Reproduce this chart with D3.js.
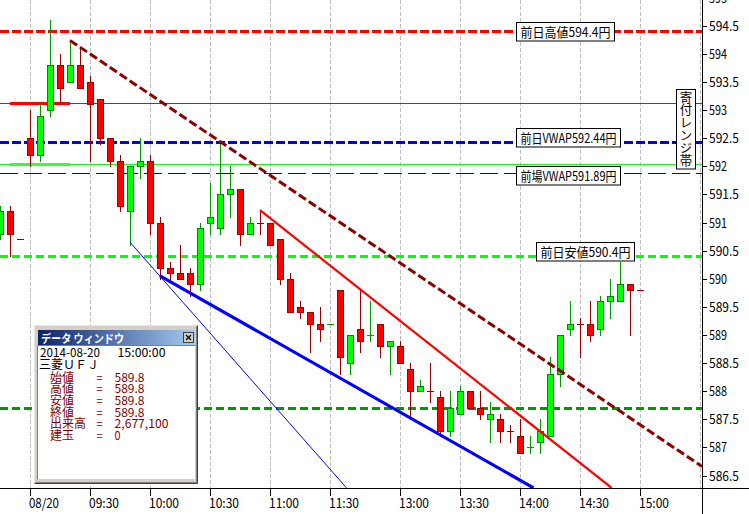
<!DOCTYPE html>
<html><head><meta charset="utf-8">
<script src="https://cdn.jsdelivr.net/npm/d3@7"></script>
<style>html,body{margin:0;padding:0;background:#fff;overflow:hidden}</style>
</head><body><svg id="c" width="749" height="514"></svg>
<script>
// ---------------- DATA ----------------
const barIdx = d3.range(-3, 62); // 5-min bars, 0 = 08/20 09:00
const opens  = [590.8,591.2,590.7, 592.5,592.2,593.0,593.8,593.5,593.8,593.5,593.2,592.5,592.1,591.2,592.0,592.1,591.0,590.2,590.1,590.1,589.9,591.0,590.9,591.5,591.6,590.8,591.0,591.0,590.7,590.0,589.5,589.4,589.2,589.2,589.8,588.5,589.1,589.0,589.2,588.8,588.8,588.4,588.0,588.0,587.9,587.3,587.6,588.0,587.7,587.5,587.5,587.3,587.2,587.0,587.1,587.2,588.3,589.1,589.2,589.2,589.1,589.6,589.6,589.9,589.8];
const highs  = [591.3,591.3,590.7, 593.0,593.1,594.6,594.0,594.2,594.1,593.6,593.2,592.5,592.2,592.0,592.5,592.2,591.1,590.3,590.6,590.2,591.0,591.7,592.4,592.0,591.6,591.1,591.2,591.0,590.7,590.1,589.6,589.4,589.5,589.2,589.8,589.0,589.8,589.6,589.2,588.9,588.9,588.5,588.2,588.5,588.0,588.0,588.1,588.0,588.0,587.8,587.6,587.4,587.5,587.2,587.5,588.6,589.0,589.6,589.3,589.6,589.7,590.0,590.3,589.9,589.8];
const lows   = [590.7,590.4,590.7, 592.0,592.1,592.9,593.1,593.5,593.4,592.1,592.4,592.0,591.2,590.6,591.8,590.8,590.0,590.0,590.0,589.7,589.8,590.8,590.8,591.1,590.6,590.8,590.8,590.6,589.9,589.4,589.3,588.7,588.9,589.2,588.3,588.3,588.7,588.9,588.6,588.3,588.5,587.5,588.0,587.8,587.2,587.2,587.6,587.7,587.5,587.1,587.1,587.1,586.9,586.9,586.9,587.2,588.1,589.0,588.6,588.9,589.0,589.3,589.6,589.0,589.8];
const closes = [591.2,590.8,590.7, 592.2,592.9,593.8,593.4,593.8,593.4,593.1,592.5,592.1,591.3,592.0,592.1,591.0,590.2,590.1,590.0,589.9,590.9,591.1,591.5,591.6,590.8,591.0,591.0,590.6,590.0,589.4,589.4,589.2,589.1,589.2,588.6,589.0,588.9,589.0,588.8,588.9,588.5,588.0,588.1,588.0,587.3,587.7,588.0,587.7,587.6,587.6,587.3,587.3,586.9,587.0,587.3,588.3,589.0,589.2,589.2,589.0,589.6,589.7,589.9,589.8,589.8];

const xTickIdx    = [0, 6, 12, 18, 24, 30, 37, 43, 49, 55, 61];
const xTickLabels = ["08/20","09:30","10:00","10:30","11:00","11:30","13:00","13:30","14:00","14:30","15:00"];
const extraGridIdx = [67];
const yTickValues = [586.5,587,587.5,588,588.5,589,589.5,590,590.5,591,591.5,592,592.5,593,593.5,594,594.5,595];

// horizontal reference levels
const levelNames  = ["前日高値", "前日VWAP", "前場VWAP", "前日安値", "支持線"];
const levelValues = [594.4, 592.44, 591.89, 590.4, 587.7];
// opening range band
const rangeHigh = 593.13, rangeLow = 592.05;
const rangeBarsFrom = -2, rangeBarsTo = 4;
const rangeLabel = "寄付レンジ帯";

// trend lines [startIdx, startPrice, endIdx, endPrice]
const trendMaroon  = [3.95, 594.24, 67.15, 586.66];
const trendRed     = [22.95, 591.22, 58.12, 586.28];
const trendBlue    = [12.95, 590.05, 50.3, 586.28];
const trendBlueThin= [9.95, 590.65, 31.6, 586.28];

// data window
const dwTitle = "データ ウィンドウ";
const dwDate = "2014-08-20", dwTime = "15:00:00", dwName = "三菱ＵＦＪ";
const dwKeys = ["始値","高値","安値","終値","出来高","建玉"];
const dwVals = ["589.8","589.8","589.8","589.8","2,677,100","0"];

// ---------------- DRAW ----------------
const W = 749, H = 514, PR = 702, PB = 488;
const svg = d3.select("#c");
const x = d3.scaleLinear().domain([0, 61]).range([30.5, 640.5]);
const y = d3.scaleLinear().domain([586.5, 594.5]).range([475.5, 25.8]);
const FONT = "'Noto Sans CJK JP','Noto Sans',sans-serif";
const msW = (s, fs) => { let w = 0; for (const ch of s) w += ch.charCodeAt(0) > 255 ? fs : fs / 2; return w; };
const ry = v => Math.round(y(v)) + 0.5;

function txt(g, s, px, py, fs, color, mfs, extra) {
  const t = g.append("text").attr("x", px).attr("y", py).text(s)
    .attr("font-family", FONT).attr("font-size", fs).attr("fill", color)
    .attr("textLength", msW(s, mfs || 12)).attr("lengthAdjust", "spacingAndGlyphs");
  if (extra) extra(t);
  return t;
}

svg.append("rect").attr("width", W).attr("height", H).attr("fill", "#fff");
svg.append("defs").append("clipPath").attr("id", "plot").append("rect")
  .attr("x", 0).attr("y", 0).attr("width", PR).attr("height", PB);
const gp = svg.append("g").attr("clip-path", "url(#plot)");

// vertical grid
gp.selectAll("line.grid").data(xTickIdx.concat(extraGridIdx)).join("line")
  .attr("x1", d => x(d)).attr("x2", d => x(d)).attr("y1", 0).attr("y2", PB)
  .attr("stroke", "#bdbdbd").attr("stroke-width", 1).attr("stroke-dasharray", "4,2");

// horizontal levels
const levelStyle = [
  {c:"#ff0000", w:3, d:"9,3"},
  {c:"#0000ff", w:3, d:"9,3"},
  {c:"#0000ff", w:1, d:"18,6"},
  {c:"#00ff00", w:3, d:"8,4"},
  {c:"#009900", w:3, d:"8,4"}
];
// opening range lines
gp.append("line").attr("x1", 0).attr("x2", PR).attr("y1", ry(rangeHigh)).attr("y2", ry(rangeHigh))
  .attr("stroke", "#ff0000").attr("stroke-width", 1);
gp.append("line").attr("x1", 0).attr("x2", PR).attr("y1", ry(rangeLow)).attr("y2", ry(rangeLow))
  .attr("stroke", "#22ee22").attr("stroke-width", 1);
gp.append("line").attr("x1", x(rangeBarsFrom) - 0.5).attr("x2", x(rangeBarsTo) - 0.5)
  .attr("y1", ry(rangeHigh)).attr("y2", ry(rangeHigh)).attr("stroke", "#ff0000").attr("stroke-width", 3);
gp.append("line").attr("x1", x(rangeBarsFrom) - 0.5).attr("x2", x(rangeBarsTo) - 0.5)
  .attr("y1", ry(rangeLow)).attr("y2", ry(rangeLow)).attr("stroke", "#33ff33").attr("stroke-width", 3);

levelValues.forEach((v, i) => {
  const st = levelStyle[i];
  gp.append("line").attr("x1", 0).attr("x2", PR).attr("y1", ry(v)).attr("y2", ry(v))
    .attr("stroke", st.c).attr("stroke-width", st.w).attr("stroke-dasharray", st.d);
});

// candles
const bars = barIdx.map((k, i) => ({k, o: opens[i], h: highs[i], l: lows[i], c: closes[i],
  up: closes[i] > opens[i] || (closes[i] === opens[i] && i > 0 && closes[i] > closes[i - 1])}));
const gc = gp.append("g");
bars.forEach(b => {
  const cx = x(b.k);
  const wick = b.up ? "#009900" : "#990000";
  gc.append("line").attr("x1", cx).attr("x2", cx).attr("y1", ry(b.h) - 0.5).attr("y2", ry(b.l) + 0.5)
    .attr("stroke", wick).attr("stroke-width", 1);
  if (b.o === b.c) {
    gc.append("line").attr("x1", cx - 3.5).attr("x2", cx + 3.5).attr("y1", ry(b.c)).attr("y2", ry(b.c))
      .attr("stroke", wick).attr("stroke-width", 1);
  } else {
    const top = ry(Math.max(b.o, b.c)), bot = ry(Math.min(b.o, b.c));
    gc.append("rect").attr("x", cx - 3).attr("y", top).attr("width", 6).attr("height", bot - top)
      .attr("fill", b.up ? "#00ff00" : "#ff0000").attr("stroke", b.up ? "#008800" : "#a00000").attr("stroke-width", 1);
  }
});

// trend lines
function trend(t, color, w, dash) {
  const l = gp.append("line").attr("x1", x(t[0])).attr("y1", y(t[1])).attr("x2", x(t[2])).attr("y2", y(t[3]))
    .attr("stroke", color).attr("stroke-width", w);
  if (dash) l.attr("stroke-dasharray", dash);
}
trend(trendBlueThin, "#0000ff", 1);
trend(trendBlue, "#0000ff", 3.2);
trend(trendRed, "#ff0000", 2.2);
trend(trendMaroon, "#8f0000", 3, "8.5,3.5");

// level label boxes
const labelLayout = [
  {i:0, x:516.5, top:22.5},
  {i:1, x:516.5, top:128.5},
  {i:2, x:516.5, top:166.5},
  {i:3, x:536.5, top:242.5}
];
labelLayout.forEach(L => {
  const s = levelNames[L.i] + levelValues[L.i] + "円";
  const w = msW(s, 12) + 8;
  svg.append("rect").attr("x", L.x).attr("y", L.top).attr("width", w).attr("height", 18.5)
    .attr("fill", "#fff").attr("stroke", "#000").attr("stroke-width", 1);
  txt(svg, s, L.x + 4, L.top + 14.5, 13, "#000");
});

// vertical 寄付レンジ帯 box
svg.append("rect").attr("x", 676.5).attr("y", 89.5).attr("width", 19).attr("height", 79.5)
  .attr("fill", "#fff").attr("stroke", "#000").attr("stroke-width", 1);
svg.append("text").attr("x", 686).attr("y", 90.5)
  .style("writing-mode", "vertical-rl")
  .attr("font-family", FONT).attr("font-size", 12.5).attr("fill", "#000")
  .attr("textLength", 76).attr("lengthAdjust", "spacingAndGlyphs")
  .text(rangeLabel);

// axes
svg.append("line").attr("x1", 0).attr("x2", W).attr("y1", PB + 0.5).attr("y2", PB + 0.5).attr("stroke", "#000");
svg.append("line").attr("x1", PR + 0.5).attr("x2", PR + 0.5).attr("y1", 0).attr("y2", H).attr("stroke", "#000");
yTickValues.forEach(v => {
  const yy = Math.round(y(v)) + 0.5;
  svg.append("line").attr("x1", PR).attr("x2", PR + 5).attr("y1", yy).attr("y2", yy).attr("stroke", "#000");
  txt(svg, String(v), 709, yy + 4.5, 13, "#000");
});
xTickIdx.forEach((k, i) => {
  const xx = x(k);
  svg.append("line").attr("x1", xx).attr("x2", xx).attr("y1", PB).attr("y2", PB + 8).attr("stroke", "#000");
  txt(svg, xTickLabels[i], xx - 1.5, 508, 13, "#000");
});

// data window
const dw = svg.append("g");
const grad = svg.select("defs").append("linearGradient").attr("id", "tg");
grad.append("stop").attr("offset", "0%").attr("stop-color", "#0a246a");
grad.append("stop").attr("offset", "100%").attr("stop-color", "#a6caf0");
dw.append("rect").attr("x", 34).attr("y", 325).attr("width", 164).attr("height", 159).attr("fill", "#d4d0c8");
dw.append("path").attr("d", "M34.5,483.5V325.5H197.5").attr("fill", "none").attr("stroke", "#e8e6e0");
dw.append("path").attr("d", "M34.5,483.5H197.5V325.5").attr("fill", "none").attr("stroke", "#404040");
dw.append("path").attr("d", "M35.5,482.5H196.5V326.5").attr("fill", "none").attr("stroke", "#808080");
dw.append("rect").attr("x", 38).attr("y", 330).attr("width", 157).attr("height", 15).attr("fill", "url(#tg)");
txt(dw, dwTitle, 41, 342.5, 11.5, "#fff", 11, t => t.attr("font-weight", "bold").attr("textLength", 83));
dw.append("rect").attr("x", 183.5).attr("y", 332.5).attr("width", 10).attr("height", 10)
  .attr("fill", "#d4d0c8").attr("stroke", "#404040");
dw.append("path").attr("d", "M186,335L191,340M191,335L186,340").attr("stroke", "#000").attr("stroke-width", 1.3);
dw.append("rect").attr("x", 38).attr("y", 346).attr("width", 157).attr("height", 133).attr("fill", "#fff");
dw.append("path").attr("d", "M37.5,479.5V345.5H195.5").attr("fill", "none").attr("stroke", "#808080");

// data window body as one text block with positioned tspans
const body = dw.append("text").attr("font-family", FONT).attr("font-size", 12);
function span(s, px, py, color) {
  body.append("tspan").attr("x", px).attr("y", py).attr("fill", color)
    .attr("textLength", msW(s, 12)).attr("lengthAdjust", "spacingAndGlyphs").text(s);
}
span(dwDate, 40, 357, "#000");
span(dwTime, 117.5, 357, "#000");
span(dwName, 39, 369, "#000");
dwKeys.forEach((kname, i) => {
  const by = 381.5 + i * 11.7;
  span(kname, 50, by, "#800000");
  span("=", 96.5, by, "#800000");
  span(dwVals[i], 114.5, by, "#800000");
});
</script></body></html>
